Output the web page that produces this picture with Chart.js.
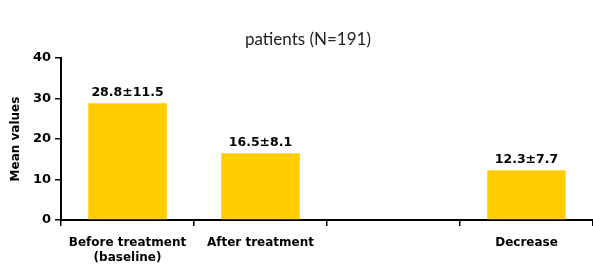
<!DOCTYPE html>
<html>
<head>
<meta charset="utf-8">
<script src="https://cdn.jsdelivr.net/npm/chart.js@4/dist/chart.umd.min.js"></script>
<style>
  html, body { margin: 0; padding: 0; background: #fff; }
  #wrap { width: 593px; height: 266px; position: relative; }
</style>
</head>
<body>
<div id="wrap"><canvas id="meanChart"></canvas></div>
<script>
// chart data
const categories = [["Before treatment", "(baseline)"], "After treatment", "", "Decrease"];
const meanValues = [28.8, 16.5, null, 12.3];
const barLabels = ["28.8\u00b111.5", "16.5\u00b18.1", "", "12.3\u00b17.7"];
const yTicks = [0, 10, 20, 30, 40];

const boldFont = { family: "'DejaVu Sans', Verdana, sans-serif", size: 13, weight: "bold" };

// title + value labels drawn by hand
const labelPlugin = {
    id: "labels",
    afterDatasetsDraw(chart) {
        const ctx = chart.ctx;
        ctx.save();
        ctx.fillStyle = "#000";
        ctx.textAlign = "center";
        ctx.textBaseline = "bottom";
        ctx.font = "bold 12.5px 'DejaVu Sans', Verdana, sans-serif";
        chart.getDatasetMeta(0).data.forEach(function (bar, i) {
            if (meanValues[i] == null) return;
            ctx.fillText(barLabels[i], bar.x, bar.y - 4);
        });
        ctx.font = "17px Lato, 'Open Sans', sans-serif";
        ctx.fillStyle = "#222";
        ctx.textBaseline = "middle";
        ctx.fillText("patients (N=191)", 308, 40);
        ctx.restore();
    }
};

const ctx = document.getElementById("meanChart").getContext("2d");
new Chart(ctx, {
    type: "bar",
    data: {
        labels: categories,
        datasets: [{
            data: meanValues,
            backgroundColor: "#FFCC00",
            categoryPercentage: 1,
            barPercentage: 0.59
        }]
    },
    options: {
        responsive: true,
        maintainAspectRatio: false,
        animation: false,
        layout: { padding: { top: 58, right: 0, left: 9, bottom: 0 } },
        plugins: {
            legend: { display: false },
            tooltip: { enabled: false },
            title: { display: false }
        },
        scales: {
            x: {
                grid: { display: true, drawOnChartArea: false, offset: true, color: "#000", lineWidth: 1.5, tickLength: 6 },
                border: { color: "#000", width: 2 },
                ticks: { color: "#000", font: { family: boldFont.family, size: 12, weight: "bold" }, padding: 10, maxRotation: 0, autoSkip: false },
                afterFit: function (scale) { scale.height = 46; }
            },
            y: {
                min: 0,
                max: 40,
                afterBuildTicks: function (scale) { scale.ticks = yTicks.map(function (v) { return { value: v }; }); },
                grid: { display: true, drawOnChartArea: false, color: "#000", lineWidth: 1.5, tickLength: 6 },
                border: { color: "#000", width: 2 },
                ticks: { color: "#000", font: boldFont, padding: 4 },
                title: { display: true, text: "Mean values", color: "#000", font: { family: boldFont.family, size: 12, weight: "bold" }, padding: 0 },
                afterFit: function (scale) { scale.width = 52; }
            }
        }
    },
    plugins: [labelPlugin]
});
</script>
</body>
</html>
